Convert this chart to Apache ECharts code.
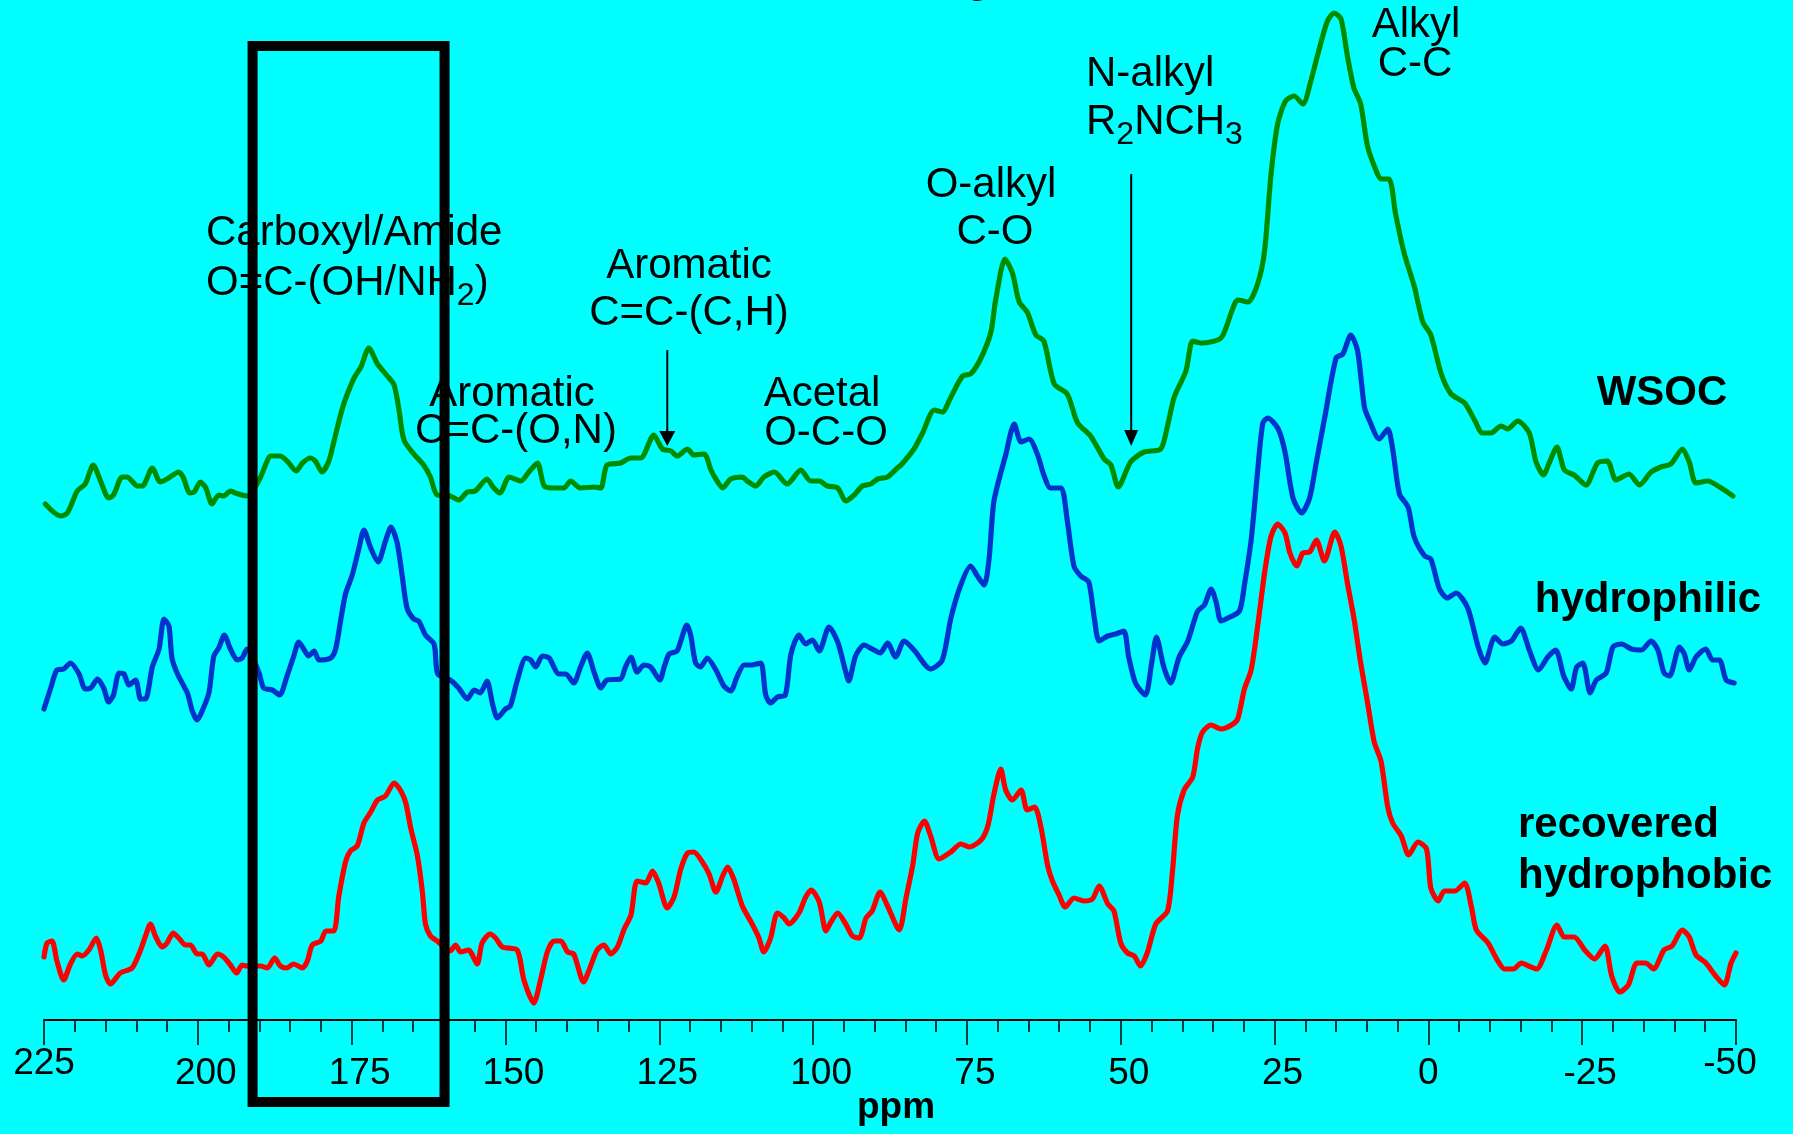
<!DOCTYPE html>
<html>
<head>
<meta charset="utf-8">
<title>13C NMR spectra</title>
<script src="https://cdn.jsdelivr.net/npm/echarts@6/dist/echarts.min.js"></script>
<style>
html, body { margin: 0; padding: 0; background: #00ffff; }
#chart { width: 1793px; height: 1134px; }
</style>
</head>
<body>
<div id="chart"></div>
<script>
// chemical shift (ppm) and stacked intensity (a.u.)
const wsocPpm = [224.8,222.3,221.2,219.6,218.3,217.0,215.8,214.5,213.7,212.3,211.5,209.8,209.0,207.4,206.1,205.0,203.1,202.4,201.3,200.6,199.6,198.7,197.7,196.6,195.8,194.7,193.9,192.0,190.1,189.0,188.2,186.6,185.5,184.0,183.0,181.7,180.9,179.8,178.7,177.9,176.8,176.0,174.6,173.5,172.2,170.8,169.2,168.1,167.3,166.5,164.9,163.3,162.2,161.1,159.0,157.6,156.2,154.9,153.0,151.9,150.9,149.4,147.5,146.2,144.8,143.7,142.1,140.5,139.4,137.8,135.6,134.5,133.5,131.3,129.6,128.0,125.9,124.5,123.1,122.1,120.4,119.4,117.7,116.6,115.8,114.7,113.4,111.5,110.7,109.3,108.0,106.3,104.2,102.0,100.4,99.0,97.7,96.0,94.7,93.3,92.0,90.6,89.5,87.9,86.3,85.7,83.6,82.2,80.3,79.0,77.6,75.7,74.4,72.7,71.1,70.3,68.8,67.6,66.5,65.2,63.8,62.5,60.8,58.7,57.0,54.9,52.7,51.6,50.4,48.4,46.2,43.5,42.4,41.3,39.4,38.3,36.9,33.7,32.0,31.0,29.3,27.7,26.6,25.6,24.5,23.2,21.8,20.4,19.1,18.0,16.4,15.3,14.2,13.1,12.1,11.0,9.9,8.6,7.7,6.4,5.3,3.9,2.3,0.9,-0.4,-2.1,-3.7,-5.9,-7.5,-8.8,-10.2,-11.8,-12.9,-14.5,-16.4,-17.5,-18.7,-19.7,-20.9,-22.1,-23.7,-25.6,-27.5,-29.1,-30.5,-32.6,-34.3,-36.2,-37.8,-39.4,-41.3,-42.4,-43.5,-45.4,-47.6,-49.5];
const wsocInt = [515,503,506,528,535,554,538,521,524,542,542,533,533,551,537,540,547,542,526,527,537,531,515,524,523,528,526,523,538,554,563,563,558,548,556,561,558,547,558,577,604,620,641,652,671,655,643,634,609,579,565,554,542,524,523,519,527,528,540,531,526,542,538,547,556,533,531,531,538,531,532,531,554,556,561,561,584,570,568,563,570,564,565,549,540,531,540,542,538,533,542,547,535,549,538,538,533,531,518,524,533,535,540,542,551,554,570,586,609,607,622,643,645,661,687,720,760,746,717,707,684,678,635,625,596,583,560,554,532,557,567,570,593,622,648,678,676,681,707,719,717,736,769,843,895,918,923,915,938,964,998,1006,1000,961,931,915,873,850,840,840,804,765,733,697,684,645,625,616,599,586,586,593,590,598,586,557,544,557,572,549,544,534,556,558,539,545,534,547,552,555,570,557,536,538,531,523];

const philPpm = [225.0,223.9,222.9,221.8,220.7,219.3,218.3,217.4,216.3,215.3,214.5,213.7,212.8,212.0,211.2,210.1,209.3,208.5,207.4,206.3,205.5,204.7,204.2,203.3,201.7,200.9,200.1,199.3,198.2,197.4,196.6,195.7,194.7,193.6,192.8,192.0,190.1,189.3,187.9,186.7,185.5,184.4,183.6,182.8,182.0,181.1,180.3,178.4,177.6,176.8,176.0,174.9,173.8,173.0,171.9,170.7,169.5,168.6,167.6,166.8,166.0,164.9,164.1,163.0,161.6,161.0,159.0,157.6,156.2,155.1,154.1,153.0,152.1,151.3,150.0,149.2,148.1,146.7,145.9,145.1,144.0,142.9,141.3,140.2,138.9,137.8,136.7,135.6,134.5,133.5,131.3,130.5,129.6,128.6,127.5,126.4,124.9,124.2,123.4,122.1,120.5,119.9,119.1,118.3,117.2,115.8,114.5,113.4,112.3,111.2,109.9,108.5,107.7,106.9,105.8,104.5,103.6,102.3,101.2,100.1,99.0,97.4,96.0,94.9,94.2,93.1,91.7,90.4,89.1,87.9,86.6,85.2,83.6,80.9,79.0,77.6,76.0,74.4,73.3,72.2,71.4,70.6,68.7,67.3,66.2,64.9,63.5,62.5,61.4,59.7,58.7,57.6,56.5,55.2,54.3,53.5,52.1,50.8,49.5,48.7,47.6,46.0,44.9,44.2,43.0,41.9,40.5,39.1,37.5,36.4,35.3,34.5,33.7,32.6,30.7,29.9,28.8,27.7,26.9,26.1,24.4,23.3,22.0,20.6,19.3,18.2,16.8,15.0,13.9,12.6,11.5,10.4,9.6,8.0,6.6,5.8,4.7,3.3,2.3,0.6,-0.4,-1.8,-3.1,-4.5,-6.4,-8.1,-9.2,-10.8,-12.1,-13.5,-15.0,-16.4,-17.9,-19.4,-20.7,-22.0,-23.2,-24.1,-25.1,-26.3,-27.3,-28.9,-30.0,-31.4,-33.0,-34.6,-36.2,-37.3,-38.3,-39.2,-40.8,-41.6,-42.4,-43.5,-45.1,-46.2,-47.3,-48.4,-49.7];
const philInt = [310,331,349,350,356,345,330,331,340,331,317,324,346,345,334,339,320,320,352,370,400,393,361,345,326,308,299,308,326,363,371,384,370,359,361,370,347,331,329,324,343,363,377,370,363,368,359,361,370,398,425,444,471,489,471,457,478,492,476,444,411,400,398,384,375,345,339,331,320,329,326,338,315,301,310,313,338,361,359,352,363,361,345,345,336,352,366,347,331,339,340,352,362,347,354,352,339,352,365,368,394,384,356,352,361,349,333,328,343,354,354,356,324,316,322,324,365,384,375,379,368,392,377,352,338,363,374,370,366,376,362,378,369,350,359,401,434,453,443,434,460,518,564,595,577,580,564,544,531,531,499,453,443,437,401,378,383,385,388,362,336,324,359,382,352,336,362,378,408,414,430,417,398,401,408,434,479,551,596,601,590,567,521,506,521,557,603,661,665,684,668,612,599,580,590,570,525,512,482,463,460,430,421,426,411,372,356,382,375,378,391,369,349,362,369,343,330,352,356,326,339,346,372,375,370,369,378,369,346,343,372,365,349,362,370,359,359,339,336];

const phobPpm = [225.0,224.5,223.7,222.9,221.8,220.7,219.6,218.8,217.7,216.5,215.8,215.0,214.2,212.6,210.7,209.3,208.5,207.7,206.9,205.8,205.0,204.0,203.1,202.0,201.2,200.1,199.3,198.2,196.8,195.8,194.7,193.7,192.8,192.0,189.8,188.7,187.5,186.6,185.6,184.4,183.0,182.2,181.4,180.0,179.2,177.9,177.1,176.0,175.2,174.1,173.0,171.9,170.8,169.5,168.1,167.0,166.2,165.4,164.3,163.5,163.0,162.2,161.1,159.0,158.1,157.3,156.0,154.6,153.8,152.5,151.6,150.5,148.1,147.0,145.4,144.3,143.2,142.1,141.0,139.9,138.9,137.3,136.4,135.1,134.0,132.9,131.8,130.7,129.6,128.6,127.2,126.1,125.1,123.7,122.6,121.5,120.4,119.4,118.0,116.9,115.8,114.7,113.9,112.9,111.5,109.9,108.8,108.0,106.9,105.8,104.7,103.9,102.3,101.2,100.3,99.0,97.9,97.1,96.0,94.7,93.6,92.5,91.4,90.4,89.1,87.9,86.0,84.9,83.8,83.0,81.9,80.9,79.5,77.6,76.0,74.6,72.7,71.6,70.6,69.5,68.7,67.6,66.2,65.2,64.0,63.0,61.9,61.1,60.1,59.0,57.6,56.0,54.6,53.5,52.1,51.1,50.0,48.9,47.8,46.8,45.7,44.3,42.4,41.6,40.8,39.7,38.3,37.5,36.7,35.3,33.7,32.0,31.0,29.9,28.8,27.7,26.6,25.6,24.5,23.3,22.5,21.4,20.4,19.3,18.2,16.9,15.2,14.2,13.1,12.1,11.0,9.9,8.8,7.7,6.6,5.8,4.4,3.2,1.7,0.3,-0.4,-1.6,-2.6,-4.3,-5.9,-7.0,-7.8,-9.7,-11.1,-12.4,-13.8,-15.1,-16.3,-17.6,-19.2,-20.9,-22.1,-23.7,-25.4,-27.0,-28.7,-29.8,-31.1,-32.5,-33.9,-35.3,-36.6,-38.3,-39.6,-41.3,-42.4,-43.5,-45.1,-46.7,-48.1,-49.2,-50.0];
const phobInt = [62,76,78,58,39,55,65,63,69,81,69,44,35,46,51,69,83,95,83,72,76,86,81,74,74,65,65,54,65,62,54,46,54,53,53,51,61,53,51,55,51,58,74,78,88,88,122,157,168,173,196,207,219,223,236,228,216,191,163,127,95,83,78,68,74,67,69,55,76,85,81,72,69,39,16,39,67,78,78,67,65,37,49,69,74,65,72,90,104,138,136,148,136,111,122,150,166,167,157,145,127,143,152,140,113,95,81,67,81,106,101,95,106,122,129,117,88,97,106,95,83,81,101,108,127,113,89,121,154,186,198,183,160,167,175,172,179,193,225,250,229,219,229,209,212,193,154,138,125,112,121,118,120,133,115,108,76,66,63,53,66,95,108,147,203,229,242,271,287,294,290,294,300,330,349,395,447,482,495,486,466,453,466,467,479,458,487,473,434,401,356,317,277,258,212,196,183,164,177,170,131,118,128,128,136,112,89,76,60,50,50,56,53,50,69,94,82,82,69,60,73,43,27,34,56,56,50,69,73,89,82,64,56,43,34,56,66];

const edgeTicks = [225, -50];
const boxPpm = [191.1, 159.9];      // highlighted carboxyl/amide band
const arrowPpm = [123.7, 48.3];     // aromatic C=C-(C,H) and N-alkyl markers

const FONT = '"Liberation Sans", Arial, Helvetica, sans-serif';

function pairs(xs, ys) {
  return xs.map((x, i) => [x, ys[i]]);
}

function spectrum(name, color, xs, ys) {
  return {
    name: name,
    type: 'line',
    data: pairs(xs, ys),
    symbol: 'none',
    smooth: 0.25,
    silent: true,
    z: 3,
    lineStyle: { color: color, width: 5.2, cap: 'round', join: 'round' },
    itemStyle: { color: color }
  };
}

const chart = echarts.init(document.getElementById('chart'));

const labelBase = { fontSize: 37, fontFamily: FONT, color: '#000', lineHeight: 37 };

chart.setOption({
  backgroundColor: '#00ffff',
  animation: false,
  grid: { left: 44, right: 57, top: 0, bottom: 114 },
  xAxis: [
    {
      type: 'value',
      inverse: true,
      min: -50,
      max: 225,
      interval: 25,
      axisLine: { onZero: false, lineStyle: { color: '#000', width: 2 } },
      axisTick: { length: 25, lineStyle: { color: '#000', width: 1.5 } },
      minorTick: { show: true, splitNumber: 5, length: 12, lineStyle: { color: '#000', width: 1.5 } },
      splitLine: { show: false },
      minorSplitLine: { show: false },
      axisLabel: {
        margin: 35,
        showMinLabel: true,
        showMaxLabel: true,
        formatter: function (v) {
          if (edgeTicks.indexOf(v) >= 0) return '';
          return v === 0 ? '{z|0}' : '{n|' + v + '}';
        },
        rich: {
          n: Object.assign({ padding: [0, 0, 0, 16] }, labelBase),
          z: Object.assign({}, labelBase)
        }
      }
    },
    {
      type: 'value',
      inverse: true,
      min: -50,
      max: 225,
      interval: 25,
      position: 'bottom',
      axisLine: { show: false },
      axisTick: { show: false },
      splitLine: { show: false },
      axisLabel: {
        margin: 25,
        showMinLabel: true,
        showMaxLabel: true,
        formatter: function (v) {
          if (v === 225) return '{a|225}';
          if (v === -50) return '{b|-50}';
          return '';
        },
        rich: {
          a: Object.assign({}, labelBase),
          b: Object.assign({ padding: [0, 12, 0, 0] }, labelBase)
        }
      }
    }
  ],
  yAxis: { type: 'value', min: -1, max: 1019, show: false },
  series: [
    spectrum('WSOC', '#008c00', wsocPpm, wsocInt),
    spectrum('hydrophilic', '#0033cc', philPpm, philInt),
    spectrum('recovered hydrophobic', '#ff0000', phobPpm, phobInt)
  ]
});

// annotations
const px = v => chart.convertToPixel({ xAxisIndex: 0 }, v);
const measure = document.createElement('canvas').getContext('2d');

function textWidth(str, size) {
  measure.font = size + 'px ' + FONT;
  return measure.measureText(str).width;
}

function label(str, x, y, align, bold, size) {
  return {
    type: 'text',
    z: 50,
    silent: true,
    style: {
      text: str,
      x: x,
      y: y,
      align: align,
      verticalAlign: 'middle',
      fill: '#000',
      fontSize: size || 42,
      fontFamily: FONT,
      fontWeight: bold ? 'bold' : 'normal'
    }
  };
}

// formula with subscripts: parts = [[text, isSub], ...], left aligned
function formula(parts, x, y) {
  const out = [];
  let cx = x;
  parts.forEach(function (p) {
    const sub = p[1];
    const size = sub ? 32 : 42;
    out.push(label(p[0], cx, sub ? y + 13.5 : y, 'left', false, size));
    cx += textWidth(p[0], size);
  });
  return out;
}

function arrow(ppm, top, tip, head, half) {
  const x = px(ppm);
  return [
    { type: 'line', z: 40, silent: true, shape: { x1: x, y1: top, x2: x, y2: tip - head + 2 }, style: { stroke: '#000', lineWidth: 2 } },
    { type: 'polygon', z: 40, silent: true, shape: { points: [[x - half, tip - head], [x + half, tip - head], [x, tip]] }, style: { fill: '#000' } }
  ];
}

const bx1 = px(boxPpm[0]);
const bx2 = px(boxPpm[1]);

const graphics = [
  label('Carboxyl/Amide', 206, 233, 'left'),
  label('Aromatic', 689, 266, 'center'),
  label('C=C-(C,H)', 689, 313, 'center'),
  label('Aromatic', 512, 394, 'center'),
  label('C=C-(O,N)', 516, 431, 'center'),
  label('Acetal', 822, 394, 'center'),
  label('O-C-O', 826, 433, 'center'),
  label('O-alkyl', 991, 185, 'center'),
  label('C-O', 995, 232, 'center'),
  label('N-alkyl', 1086, 74, 'left'),
  label('Alkyl', 1416, 25, 'center'),
  label('C-C', 1415, 64, 'center'),
  label('WSOC', 1662, 393, 'center', true),
  label('hydrophilic', 1648, 600, 'center', true),
  label('recovered', 1518, 825, 'left', true),
  label('hydrophobic', 1518, 876, 'left', true),
  label('g', 978, -20, 'center', true),
  label('ppm', 896, 1108, 'center', true, 37),
  {
    type: 'rect', z: 100, silent: true,
    shape: { x: bx1, y: 46, width: bx2 - bx1, height: 1102 - 46 },
    style: { fill: 'none', stroke: '#000', lineWidth: 10 }
  }
].concat(
  formula([['O=C-(OH/NH', false], ['2', true], [')', false]], 206, 283),
  formula([['R', false], ['2', true], ['NCH', false], ['3', true]], 1086, 122),
  arrow(arrowPpm[0], 350, 446, 15, 8),
  arrow(arrowPpm[1], 174, 446, 16, 7)
);

chart.setOption({ graphic: graphics });
</script>
</body>
</html>
